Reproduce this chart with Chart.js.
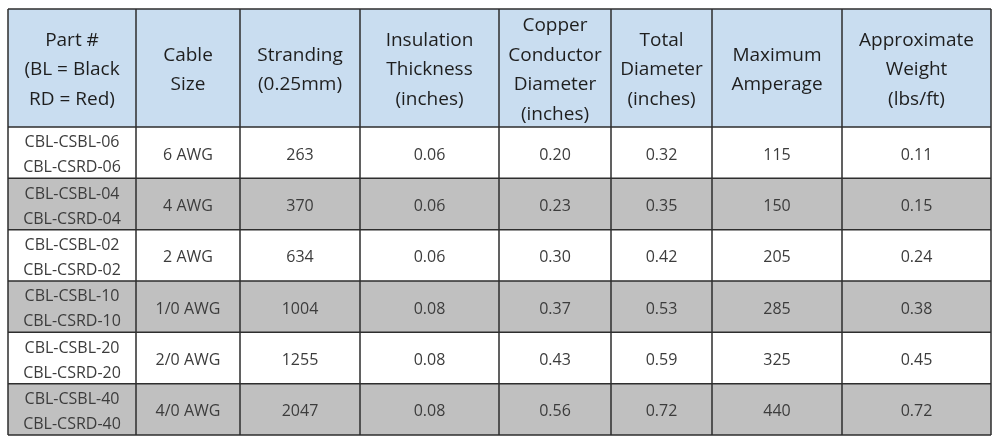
<!DOCTYPE html>
<html>
<head>
<meta charset="utf-8">
<script src="https://cdn.jsdelivr.net/npm/chart.js@4/dist/chart.umd.min.js"></script>
<style>
  html, body { margin: 0; padding: 0; background: #fff; }
  canvas { display: block; }
</style>
</head>
<body>
<canvas id="cableTable" width="1000" height="444"></canvas>
<script>
// table contents
const headers = [
  ["Part #", "(BL = Black", "RD = Red)"],
  ["Cable", "Size"],
  ["Stranding", "(0.25mm)"],
  ["Insulation", "Thickness", "(inches)"],
  ["Copper", "Conductor", "Diameter", "(inches)"],
  ["Total", "Diameter", "(inches)"],
  ["Maximum", "Amperage"],
  ["Approximate", "Weight", "(lbs/ft)"]
];
const partNumbers = [
  ["CBL-CSBL-06", "CBL-CSRD-06"],
  ["CBL-CSBL-04", "CBL-CSRD-04"],
  ["CBL-CSBL-02", "CBL-CSRD-02"],
  ["CBL-CSBL-10", "CBL-CSRD-10"],
  ["CBL-CSBL-20", "CBL-CSRD-20"],
  ["CBL-CSBL-40", "CBL-CSRD-40"]
];
const cableSizes = ["6 AWG", "4 AWG", "2 AWG", "1/0 AWG", "2/0 AWG", "4/0 AWG"];
const stranding = ["263", "370", "634", "1004", "1255", "2047"];
const insulation = ["0.06", "0.06", "0.06", "0.08", "0.08", "0.08"];
const conductorDia = ["0.20", "0.23", "0.30", "0.37", "0.43", "0.56"];
const totalDia = ["0.32", "0.35", "0.42", "0.53", "0.59", "0.72"];
const maxAmps = ["115", "150", "205", "285", "325", "440"];
const weight = ["0.11", "0.15", "0.24", "0.38", "0.45", "0.72"];

const columns = [partNumbers, cableSizes, stranding, insulation, conductorDia, totalDia, maxAmps, weight];

// layout, in axis units
const colEdges = [0, 128, 232, 352, 491, 603, 704, 834, 983];
const headerH = 118;
const tableH = 426;
const rowH = (tableH - headerH) / partNumbers.length;

const tablePlugin = {
  id: 'tablePlugin',
  beforeDatasetsDraw(chart) {
    const ctx = chart.ctx;
    const x = chart.scales.x;
    const y = chart.scales.y;
    const px = v => x.getPixelForValue(v);
    const py = v => y.getPixelForValue(v);

    ctx.save();
    // header background
    ctx.fillStyle = '#c9ddf0';
    ctx.fillRect(px(0), py(0), px(983) - px(0), py(headerH) - py(0));
    // body rows
    partNumbers.forEach((_, r) => {
      const top = headerH + r * rowH;
      ctx.fillStyle = r % 2 === 0 ? '#ffffff' : '#c0c0c0';
      ctx.fillRect(px(0), py(top), px(983) - px(0), py(top + rowH) - py(top));
    });

    ctx.textAlign = 'center';
    ctx.textBaseline = 'middle';

    // header text
    ctx.fillStyle = '#1e1e1e';
    ctx.font = '19px "Open Sans"';
    headers.forEach((lines, c) => {
      const cx = (px(colEdges[c]) + px(colEdges[c + 1])) / 2;
      const cy = py(headerH / 2) + 2;
      const lh = 29.5;
      lines.forEach((t, i) => {
        ctx.fillText(t, cx, cy + (i - (lines.length - 1) / 2) * lh);
      });
    });

    // body text
    ctx.fillStyle = '#3c3c3c';
    ctx.font = '16px "Open Sans"';
    columns.forEach((col, c) => {
      const cx = (px(colEdges[c]) + px(colEdges[c + 1])) / 2;
      col.forEach((val, r) => {
        const cy = py(headerH + (r + 0.5) * rowH) + 2.5;
        const lines = Array.isArray(val) ? val : [val];
        lines.forEach((t, i) => {
          ctx.fillText(t, cx, cy + (i - (lines.length - 1) / 2) * 25);
        });
      });
    });

    // grid lines
    ctx.strokeStyle = '#2e2e2e';
    ctx.lineWidth = 1.5;
    ctx.beginPath();
    colEdges.forEach(e => {
      ctx.moveTo(px(e), py(0));
      ctx.lineTo(px(e), py(tableH));
    });
    for (let r = 0; r <= partNumbers.length; r++) {
      const yy = py(headerH + r * rowH);
      ctx.moveTo(px(0), yy);
      ctx.lineTo(px(983), yy);
    }
    ctx.moveTo(px(0), py(0));
    ctx.lineTo(px(983), py(0));
    ctx.stroke();
    ctx.restore();
  }
};

new Chart(document.getElementById('cableTable'), {
  type: 'scatter',
  data: { datasets: [] },
  options: {
    responsive: false,
    animation: false,
    devicePixelRatio: 1,
    layout: { padding: { left: 8, right: 9, top: 9, bottom: 9 } },
    scales: {
      x: { type: 'linear', min: 0, max: 983, display: false },
      y: { type: 'linear', min: 0, max: tableH, reverse: true, display: false }
    },
    plugins: {
      legend: { display: false },
      tooltip: { enabled: false }
    }
  },
  plugins: [tablePlugin]
});
</script>
</body>
</html>
